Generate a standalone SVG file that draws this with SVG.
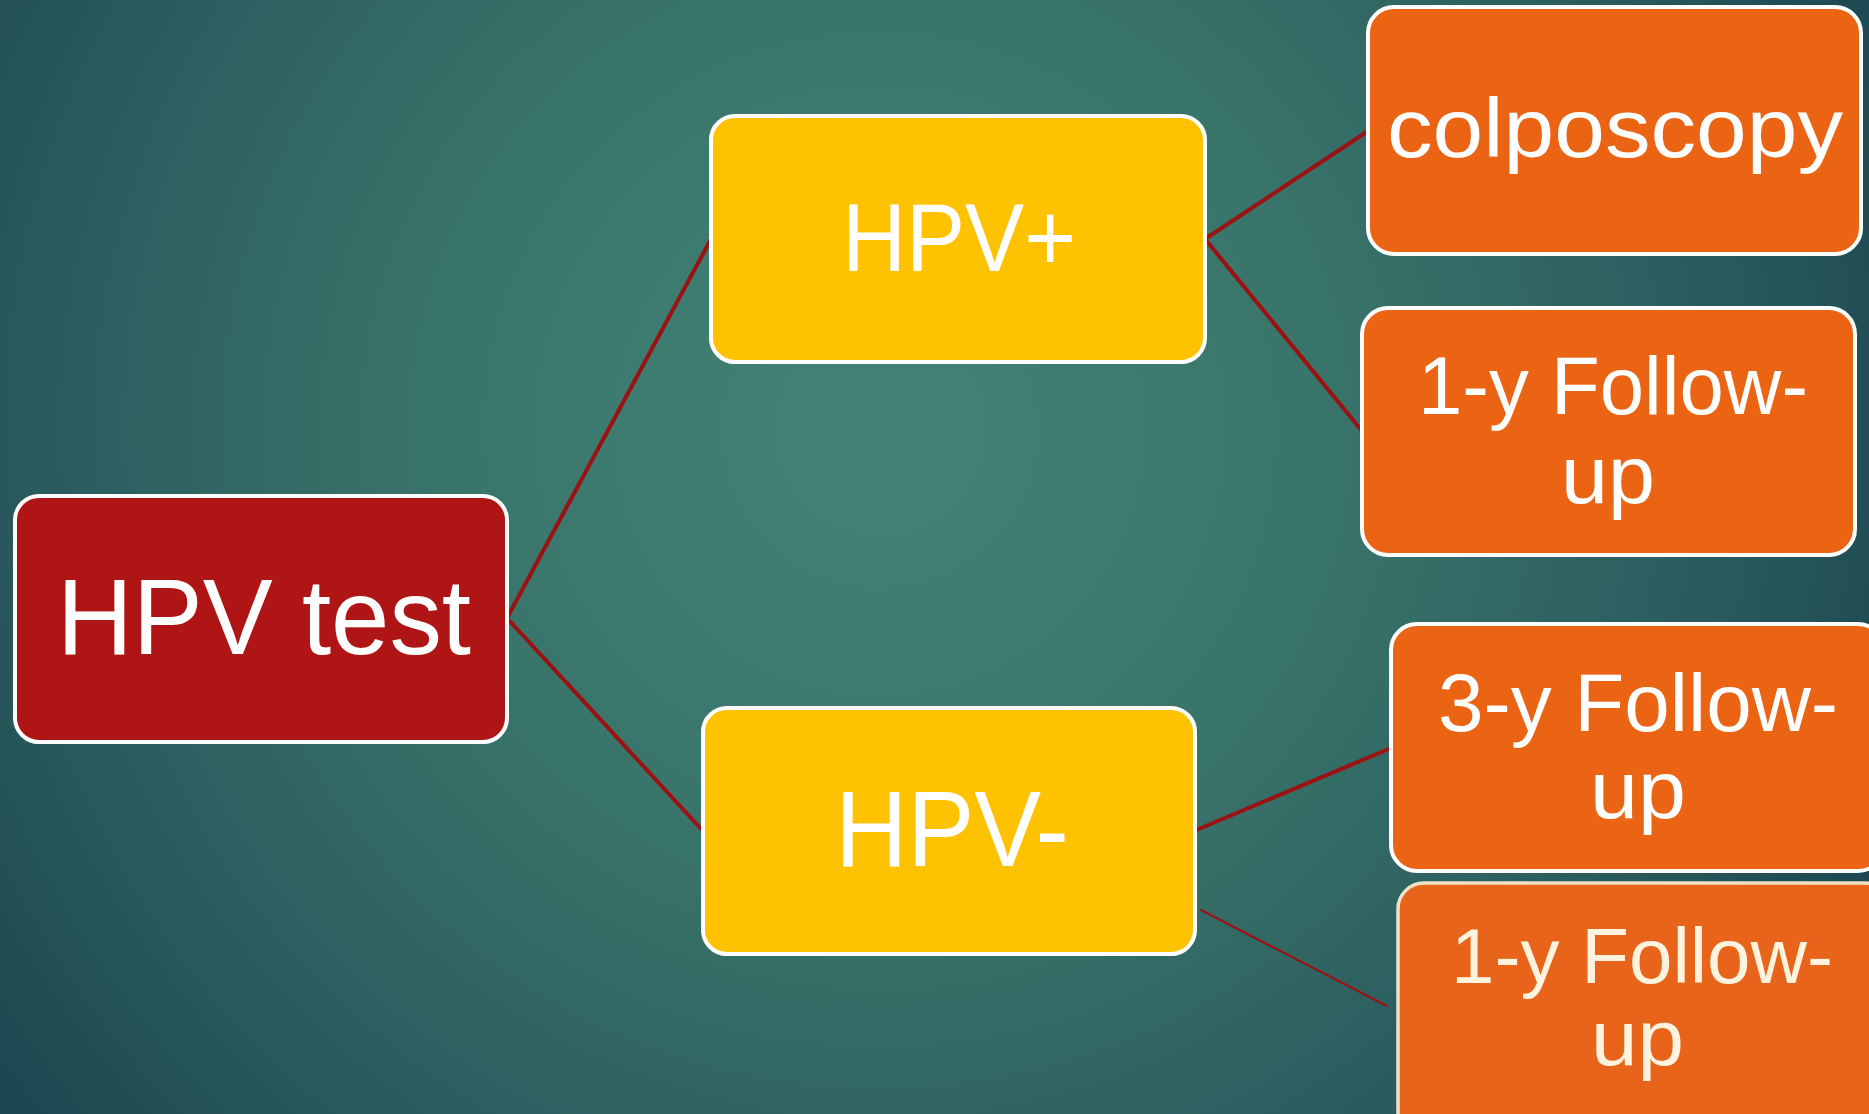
<svg xmlns="http://www.w3.org/2000/svg" width="1869" height="1114" viewBox="0 0 1869 1114">
  <defs>
    <radialGradient id="bg" cx="880" cy="430" r="1120" gradientUnits="userSpaceOnUse">
      <stop offset="0" stop-color="#438375"/>
      <stop offset="0.4" stop-color="#39746b"/>
      <stop offset="0.75" stop-color="#2a5b5d"/>
      <stop offset="1" stop-color="#1b4550"/>
    </radialGradient>
    <style>
      .box { stroke: #ffffff; stroke-width: 4; }
      .red { fill: #b01515; }
      .yellow { fill: #fec200; }
      .orange { fill: #ea6414; }
      .t { font-family: "Liberation Sans", Arial, sans-serif; fill: #ffffff; }
      .conn { stroke: #9c1111; stroke-width: 4; fill: none; stroke-linecap: round; }
      .thin { stroke-width: 2.2; }
    </style>
  </defs>
  <rect x="0" y="0" width="1869" height="1114" fill="url(#bg)"/>

  <g id="connectors">
    <line class="conn" x1="507" y1="618" x2="711" y2="239"/>
    <line class="conn" x1="507" y1="618" x2="703" y2="831"/>
    <line class="conn" x1="1205" y1="239" x2="1368" y2="131"/>
    <line class="conn" x1="1205" y1="239" x2="1362" y2="431"/>
    <line class="conn" x1="1194" y1="831" x2="1391" y2="748"/>
    <line class="conn thin" x1="1201" y1="910" x2="1387" y2="1006"/>
  </g>

  <g id="hpv-test">
    <rect class="box red" x="15" y="496" width="492" height="246" rx="24"/>
    <text class="t" x="57" y="654" font-size="107" textLength="414" lengthAdjust="spacingAndGlyphs">HPV test</text>
  </g>

  <g id="hpv-pos">
    <rect class="box yellow" x="711" y="116" width="494" height="246" rx="24"/>
    <text class="t" x="842" y="271" font-size="96" textLength="234" lengthAdjust="spacingAndGlyphs">HPV+</text>
  </g>

  <g id="hpv-neg">
    <rect class="box yellow" x="703" y="708" width="492" height="246" rx="24"/>
    <text class="t" x="835" y="866" font-size="107" textLength="234" lengthAdjust="spacingAndGlyphs">HPV-</text>
  </g>

  <g id="colposcopy">
    <rect class="box orange" x="1368" y="7" width="493" height="247" rx="26"/>
    <text class="t" x="1387" y="157" font-size="84" textLength="456" lengthAdjust="spacingAndGlyphs">colposcopy</text>
  </g>

  <g id="followup-1y-pos">
    <rect class="box orange" x="1362" y="308" width="493" height="247" rx="26"/>
    <text class="t" x="1418" y="414" font-size="81" textLength="390" lengthAdjust="spacingAndGlyphs">1-y Follow-</text>
    <text class="t" x="1561" y="503" font-size="81" textLength="94" lengthAdjust="spacingAndGlyphs">up</text>
  </g>

  <g id="followup-3y-neg">
    <rect class="box orange" x="1391" y="624" width="493" height="247" rx="26"/>
    <text class="t" x="1438" y="731" font-size="82" textLength="400" lengthAdjust="spacingAndGlyphs">3-y Follow-</text>
    <text class="t" x="1590" y="818" font-size="82" textLength="96" lengthAdjust="spacingAndGlyphs">up</text>
  </g>

  <g id="followup-1y-neg">
    <rect x="1398" y="883" width="493" height="260" rx="26" fill="#e8641a" stroke="#eee1c4" stroke-width="3.5"/>
    <text class="t" x="1451" y="983" font-size="77" textLength="382" lengthAdjust="spacingAndGlyphs" style="fill:#fdf3df">1-y Follow-</text>
    <text class="t" x="1591" y="1065" font-size="77" textLength="93" lengthAdjust="spacingAndGlyphs" style="fill:#fdf3df">up</text>
  </g>
</svg>
